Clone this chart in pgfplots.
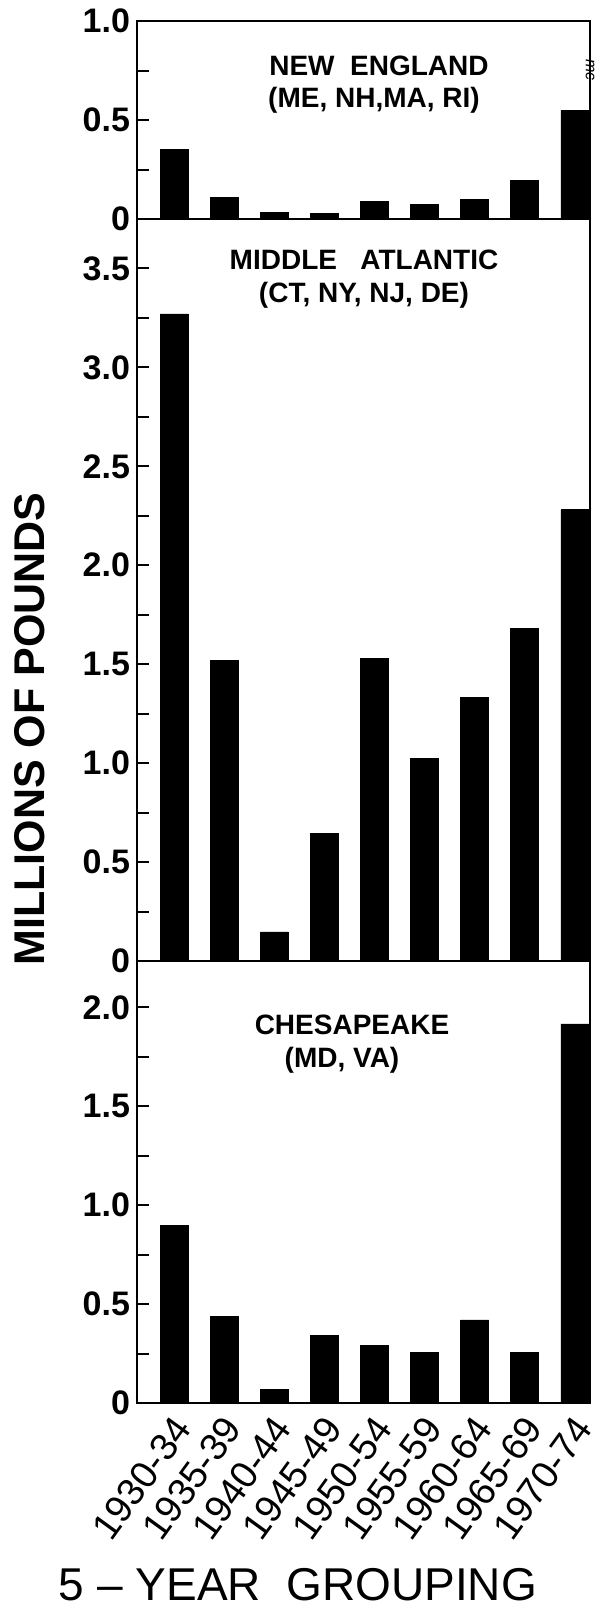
\documentclass[border=0pt]{standalone}
\usepackage{fontspec}
\setmainfont{Liberation Sans}
\usepackage{pgfplots}
\pgfplotsset{compat=1.18}
\pgfplotsset{
  panel/.style={
    scale only axis, width=226.5pt,
    xmin=-0.74, xmax=8.3, ymin=0,
    axis line style={line width=1.2pt},
    ytick pos=left,
    tick align=inside,
    major tick length=6pt, minor tick length=6pt,
    every tick/.style={line width=1pt, black},
    yticklabel style={font=\fontsize{17}{17}\selectfont\bfseries},
    /pgf/number format/assume math mode=true,
  },
  bars/.style={ybar, fill=black, draw=black, bar width=14pt, bar shift=0pt},
}
\begin{document}
\begin{tikzpicture}
\path[use as bounding box] (0pt,0pt) rectangle (300pt,-805pt);

% New England
\begin{axis}[panel, at={(68.5pt,-10.6pt)}, anchor=north west, height=98.9pt,
  ymax=1.0, ytick={0,0.5,1}, yticklabels={0,0.5,1.0},
  minor ytick={0.25,0.75}, xtick=\empty]
\addplot[bars] coordinates {(0,0.35) (1,0.107) (2,0.032) (3,0.028) (4,0.088) (5,0.075) (6,0.100) (7,0.195) (8,0.55)};
\end{axis}

% Middle Atlantic
\begin{axis}[panel, at={(68.5pt,-109.5pt)}, anchor=north west, height=371pt,
  ymax=3.75, ytick={0,0.5,1,1.5,2,2.5,3,3.5},
  yticklabels={0,0.5,1.0,1.5,2.0,2.5,3.0,3.5},
  minor ytick={0.25,0.75,1.25,1.75,2.25,2.75,3.25}, xtick=\empty]
\addplot[bars] coordinates {(0,3.27) (1,1.52) (2,0.147) (3,0.644) (4,1.53) (5,1.024) (6,1.33) (7,1.68) (8,2.28)};
\end{axis}

% Chesapeake
\begin{axis}[panel, at={(68.5pt,-480.5pt)}, anchor=north west, height=221pt,
  ymax=2.235, ytick={0,0.5,1,1.5,2}, yticklabels={0,0.5,1.0,1.5,2.0},
  minor ytick={0.25,0.75,1.25,1.75},
  xtick={0,1,2,3,4,5,6,7,8},
  xticklabels={1930-34,1935-39,1940-44,1945-49,1950-54,1955-59,1960-64,1965-69,1970-74},
  x tick style={draw=none},
  xticklabel style={font=\fontsize{19}{19}\selectfont, rotate=54, anchor=east, yshift=-9pt, xshift=-4pt, inner sep=1pt}]
\addplot[bars] coordinates {(0,0.90) (1,0.44) (2,0.067) (3,0.343) (4,0.29) (5,0.256) (6,0.42) (7,0.256) (8,1.917)};
\end{axis}

% panel titles
\begin{scope}[every node/.style={font=\fontsize{14}{14}\selectfont\bfseries, inner sep=0pt}]
\node at (189.5pt,-33pt) {NEW\ \ ENGLAND};
\node at (187pt,-50pt) {(ME, NH,MA, RI)};
\node at (182pt,-130pt) {MIDDLE\ \ \ ATLANTIC};
\node at (182pt,-147.5pt) {(CT, NY, NJ, DE)};
\node at (176pt,-512.5pt) {CHESAPEAKE};
\node at (171pt,-530pt) {(MD, VA)};
\end{scope}
\node[rotate=-90, font=\fontsize{8}{8}\selectfont\itshape, inner sep=0pt] at (295pt,-35pt) {mc};

% axis titles
\node[rotate=90, font=\fontsize{21.5}{21.5}\selectfont\bfseries] at (15pt,-364.5pt) {MILLIONS OF POUNDS};
\node[anchor=base, font=\fontsize{23}{23}\selectfont] at (149pt,-800pt) {5 – YEAR\ \ GROUPING};
\end{tikzpicture}
\end{document}
